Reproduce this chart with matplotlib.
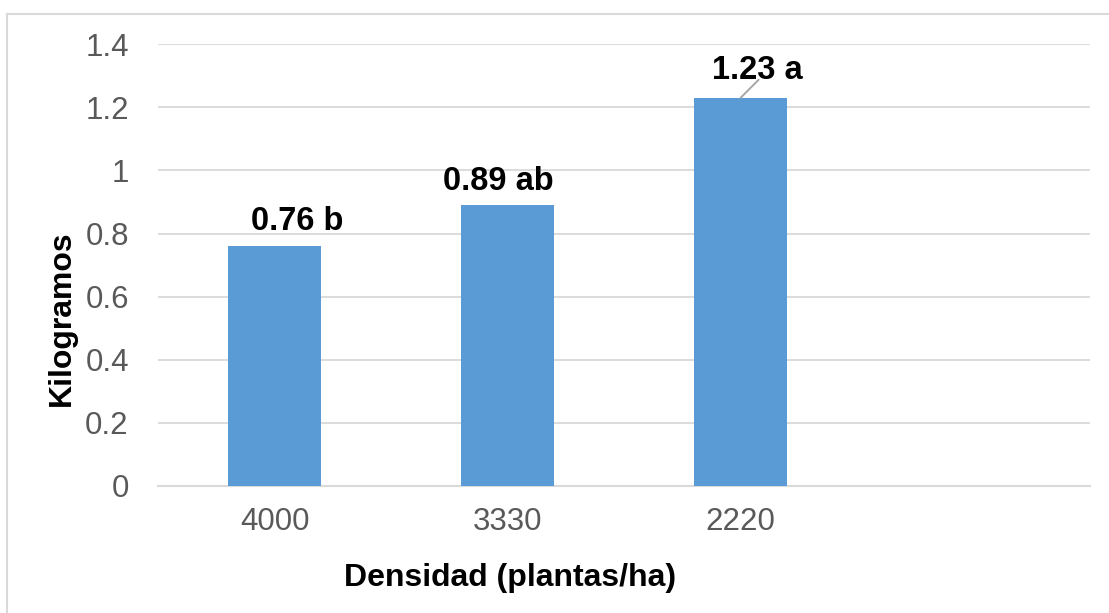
import matplotlib.pyplot as plt
from matplotlib.lines import Line2D

plt.rcParams['font.family'] = ['Liberation Sans', 'DejaVu Sans']

# densidad de siembra vs rendimiento por planta
densidad = ['4000', '3330', '2220', '']
kilos = [0.76, 0.89, 1.23, 0]
letras = ['b', 'ab', 'a', '']
y_ticks = [0, 0.2, 0.4, 0.6, 0.8, 1, 1.2, 1.4]
y_tick_labels = ['0', '0.2', '0.4', '0.6', '0.8', '1', '1.2', '1.4']

fig = plt.figure(figsize=(11.09, 6.13), dpi=100)
ax = fig.add_axes([0.1425, 0.2072, 0.8405, 0.7208])

x = range(len(densidad))
ax.bar(x[:3], kilos[:3], width=0.40, color='#5B9BD5', zorder=3)

ax.set_xlim(-0.5, len(densidad) - 0.5)
ax.set_ylim(0, 1.4)
ax.set_yticks(y_ticks)
ax.set_yticklabels(y_tick_labels)
ax.set_xticks(list(x))
ax.set_xticklabels(densidad)
ax.tick_params(axis='both', length=0, labelsize=22.5, labelcolor='#595959')
ax.tick_params(axis='y', pad=21)
ax.tick_params(axis='x', pad=15)
ax.grid(axis='y', color='#D9D9D9', linewidth=1.3, zorder=0)
for s in ['top', 'right', 'left']:
    ax.spines[s].set_visible(False)
ax.spines['bottom'].set_color('#D9D9D9')
ax.spines['bottom'].set_linewidth(1.5)

# etiquetas de datos (desplazadas en puntos)
offsets = [(16, 18), (-7, 17), (12, 20)]
for i in range(3):
    txt = '%.2f %s' % (kilos[i], letras[i])
    dx, dy = offsets[i]
    ax.annotate(txt, xy=(i, kilos[i]), xytext=(dx, dy), textcoords='offset points',
                ha='center', va='center', fontsize=23.5, fontweight='bold')

# linea guia de la etiqueta desplazada
ax.annotate('', xy=(2, kilos[2]), xytext=(13, 13), textcoords='offset points',
            arrowprops=dict(arrowstyle='-', color='#A6A6A6', lw=1.4,
                            shrinkA=0, shrinkB=0))

fig.text(0.46, 0.057, 'Densidad (plantas/ha)', ha='center', va='center',
         fontsize=23, fontweight='bold')
fig.text(0.056, 0.481, 'Kilogramos', ha='center', va='center', rotation=90,
         fontsize=23, fontweight='bold')

# borde del area del grafico
fig.add_artist(Line2D([7 / 1109, 7 / 1109], [0, 1 - 14 / 613], color='#D9D9D9', lw=1.5))
fig.add_artist(Line2D([7 / 1109, 1], [1 - 14 / 613, 1 - 14 / 613], color='#D9D9D9', lw=1.5))

fig.savefig('out.png', dpi=100, facecolor='white')
